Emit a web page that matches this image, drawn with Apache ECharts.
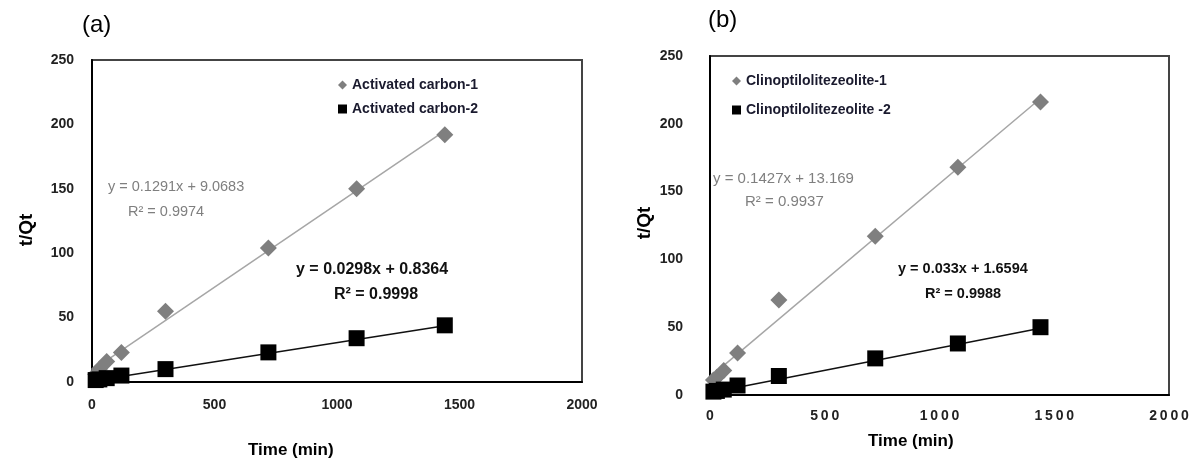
<!DOCTYPE html>
<html>
<head>
<meta charset="utf-8">
<script src="https://cdn.jsdelivr.net/npm/echarts@6/dist/echarts.min.js"></script>
<style>
  html, body { margin: 0; padding: 0; background: #fff; }
  #chart { width: 1192px; height: 463px; }
</style>
</head>
<body>
<div id="chart"></div>
<script>
// time points (min)
var timesA = [15, 30, 60, 120, 300, 720, 1080, 1440];
var timesB = [15, 30, 60, 120, 300, 720, 1080, 1440];

// panel (a) t/Qt values
var carbon1 = [6, 10, 16, 23, 55, 104, 150, 192];
var carbon2 = [1.5, 2, 3, 5, 10, 23, 34, 44];
// panel (b) t/Qt values
var zeolite1 = [11, 13, 18, 31, 70, 117, 168, 216];
var zeolite2 = [2.5, 3, 4, 7, 14, 27, 38, 50];

// trendline end points
var trendA1 = [[0, 9.1], [1450, 196.3]];
var trendA2 = [[0, 0.8], [1440, 43.7]];
var trendB1 = [[0, 13.2], [1450, 220.1]];
var trendB2 = [[0, 1.7], [1440, 49.2]];

var xTicks = [0, 500, 1000, 1500, 2000];
var yTicks = [0, 50, 100, 150, 200, 250];

function pairs(xs, ys) {
  return xs.map(function (x, i) { return [x, ys[i]]; });
}

var chart = echarts.init(document.getElementById("chart"));
var gray = "#7f7f7f";
var tickFont = { fontFamily: "Liberation Sans", fontWeight: "bold", fontSize: 14, color: "#222" };

function xAxis(gridIndex, spaced) {
  return {
    type: "value", gridIndex: gridIndex, min: xTicks[0], max: xTicks[xTicks.length - 1], interval: 500,
    axisLine: { lineStyle: { color: "#000", width: 2 } },
    axisTick: { show: false }, splitLine: { show: false },
    axisLabel: Object.assign({ margin: spaced ? 14 : 16, formatter: function (v) {
      return spaced ? String(v).split("").join("\u2009") : String(v);
    } }, tickFont)
  };
}
function yAxis(gridIndex, margin) {
  return {
    type: "value", gridIndex: gridIndex, min: yTicks[0], max: yTicks[yTicks.length - 1], interval: 50,
    axisLine: { lineStyle: { color: "#000", width: 2 } },
    axisTick: { show: false }, splitLine: { show: false },
    axisLabel: Object.assign({ margin: margin }, tickFont)
  };
}
function scatter(name, idx, data, isDiamond) {
  return {
    name: name, type: "scatter", xAxisIndex: idx, yAxisIndex: idx, data: data,
    symbol: isDiamond ? "diamond" : "rect",
    symbolSize: isDiamond ? 17 : 16,
    itemStyle: { color: isDiamond ? gray : "#000", opacity: 1 },
    z: 3
  };
}
function trend(idx, data, color) {
  return {
    type: "line", xAxisIndex: idx, yAxisIndex: idx, data: data, symbol: "none",
    lineStyle: { color: color, width: 1.5 }, silent: true, z: 2
  };
}
function legend(names, left, top, gap) {
  return {
    orient: "vertical", left: left, top: top, itemGap: gap, itemWidth: 9, itemHeight: 9,
    data: [
      { name: names[0], icon: "diamond", itemStyle: { color: gray } },
      { name: names[1], icon: "rect", itemStyle: { color: "#000" } }
    ],
    textStyle: { fontFamily: "Liberation Sans", fontWeight: "bold", fontSize: 14, color: "#1a1a2e" }
  };
}
function text(x, y, str, color, bold, size) {
  return {
    type: "text", left: x, top: y,
    style: { text: str, fill: color, font: (bold ? "bold " : "") + size + "px 'Liberation Sans'" }
  };
}
function vtext(x, y, str) {
  return {
    type: "text", x: x, y: y, rotation: Math.PI / 2,
    style: { text: str, fill: "#000", font: "bold 19px 'Liberation Sans'", align: "center", verticalAlign: "middle" }
  };
}

chart.setOption({
  animation: false,
  grid: [
    { left: 92, top: 60, width: 490, height: 322, show: true, borderColor: "#444", borderWidth: 2 },
    { left: 710, top: 56, width: 459, height: 339, show: true, borderColor: "#444", borderWidth: 2 }
  ],
  xAxis: [xAxis(0, false), xAxis(1, true)],
  yAxis: [yAxis(0, 18), yAxis(1, 27)],
  legend: [
    legend(["Activated carbon-1", "Activated carbon-2"], 333, 73, 10),
    legend(["Clinoptilolitezeolite-1", "Clinoptilolitezeolite -2"], 727, 69, 15)
  ],
  series: [
    trend(0, trendA1, "#a6a6a6"),
    trend(0, trendA2, "#111"),
    trend(1, trendB1, "#a6a6a6"),
    trend(1, trendB2, "#111"),
    scatter("Activated carbon-1", 0, pairs(timesA, carbon1), true),
    scatter("Activated carbon-2", 0, pairs(timesA, carbon2), false),
    scatter("Clinoptilolitezeolite-1", 1, pairs(timesB, zeolite1), true),
    scatter("Clinoptilolitezeolite -2", 1, pairs(timesB, zeolite2), false)
  ],
  graphic: [
    text(82, 13, "(a)", "#000", false, 24),
    text(708, 8, "(b)", "#000", false, 24),
    vtext(27, 230, "t/Qt"),
    vtext(645, 223, "t/Qt"),
    text(248, 442, "Time (min)", "#000", true, 17),
    text(868, 433, "Time (min)", "#000", true, 17),
    text(108, 179, "y = 0.1291x + 9.0683", gray, false, 14.5),
    text(128, 204, "R\u00b2 = 0.9974", gray, false, 14.5),
    text(296, 262, "y = 0.0298x + 0.8364", "#111", true, 16),
    text(334, 287, "R\u00b2 = 0.9998", "#111", true, 16),
    text(713, 171, "y = 0.1427x + 13.169", gray, false, 15),
    text(745, 194, "R\u00b2 = 0.9937", gray, false, 15),
    text(898, 261, "y = 0.033x + 1.6594", "#111", true, 14.5),
    text(925, 286, "R\u00b2 = 0.9988", "#111", true, 14.5)
  ]
});
</script>
</body>
</html>
